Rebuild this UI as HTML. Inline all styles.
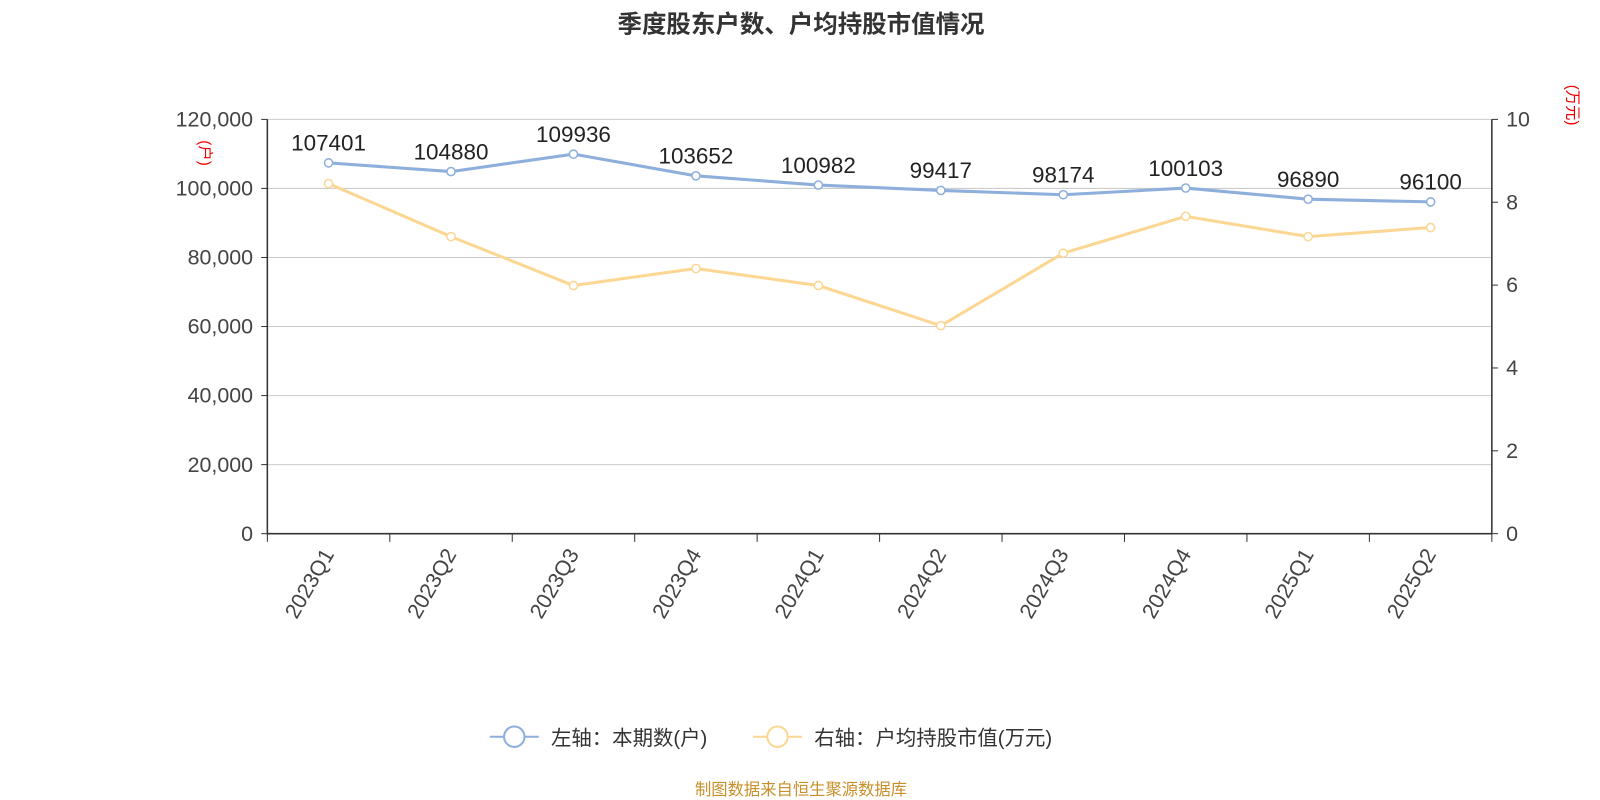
<!DOCTYPE html>
<html><head><meta charset="utf-8"><style>
html,body{margin:0;padding:0;background:#fff;width:1600px;height:800px;overflow:hidden}
text{font-family:"Liberation Sans","Noto Sans CJK SC",sans-serif}
</style></head><body>
<svg id="chart" width="1600" height="800" viewBox="0 0 1568 784" xmlns="http://www.w3.org/2000/svg">
<text x="785" y="32" text-anchor="middle" font-size="24" font-weight="bold" fill="#333">季度股东户数、户均持股市值情况</text>
<g id="grid"></g><g id="axes"></g><g id="series"></g>
<text transform="translate(196,150) rotate(90)" text-anchor="middle" font-size="15" fill="#e00">(户)</text>
<text transform="translate(1536,103) rotate(90)" text-anchor="middle" font-size="15" fill="#e00">(万元)</text>
<g>
<g>
<line x1="480" y1="722" x2="528" y2="722" stroke="#8eaedc" stroke-width="2"/>
<circle cx="504" cy="722" r="10" fill="#fff" stroke="#8eaedc" stroke-width="2"/>
<text x="540" y="730" font-size="20" fill="#333">左轴：本期数(户)</text></g>
<g>
<line x1="738" y1="722" x2="786" y2="722" stroke="#fcd793" stroke-width="2"/>
<circle cx="762" cy="722" r="10" fill="#fff" stroke="#fcd793" stroke-width="2"/>
<text x="798" y="730" font-size="20" fill="#333">右轴：户均持股市值(万元)</text></g>
</g>
<text x="785" y="779" text-anchor="middle" font-size="16" fill="#c8902a">制图数据来自恒生聚源数据库</text>
</svg>
<script>
const categories=["2023Q1","2023Q2","2023Q3","2023Q4","2024Q1","2024Q2","2024Q3","2024Q4","2025Q1","2025Q2"];
const holders=[107401,104880,109936,103652,100982,99417,98174,100103,96890,96100];
const avgValue=[8.45,7.17,5.99,6.40,5.99,5.02,6.77,7.66,7.17,7.39];
const leftTicks=[0,20000,40000,60000,80000,100000,120000];
const rightTicks=[0,2,4,6,8,10];
const NS="http://www.w3.org/2000/svg";
const X0=262,X1=1462,TOP=117,BOT=523;
const bw=(X1-X0)/categories.length;
const xc=i=>X0+bw*(i+0.5);
const yL=v=>BOT-(v/120000)*(BOT-TOP);
const yR=v=>BOT-(v/10)*(BOT-TOP);
function mk(parent,tag,attrs){const e=document.createElementNS(NS,tag);for(const k in attrs)e.setAttribute(k,attrs[k]);document.getElementById(parent).appendChild(e);return e;}
leftTicks.forEach(t=>{
 const y=yL(t);
 if(t>0){const g=mk('grid','line',{x1:X0,x2:X1,y1:y,y2:y,stroke:'#ccc','stroke-width':1});
 
 }
 const tk=mk('axes','line',{x1:X0-6,x2:X0,y1:y,y2:y,stroke:'#333'});
 
 
 const l=mk('axes','text',{x:X0-14,y:y+7,'text-anchor':'end','font-size':21,fill:'#444'});
 l.textContent=t.toLocaleString('en-US');
 
 
});
rightTicks.forEach(t=>{
 const y=yR(t);
 const tk=mk('axes','line',{x1:X1,x2:X1+6,y1:y,y2:y,stroke:'#333'});
 
 
 const l=mk('axes','text',{x:X1+14,y:y+7,'font-size':21,fill:'#444'});
 l.textContent=t;
 
 
});
[['left-axis-line',X0],['right-axis-line',X1]].forEach(([n,x])=>{
 const a=mk('axes','line',{x1:x,x2:x,y1:TOP,y2:BOT,stroke:'#333','stroke-width':1.5});
 
 
});
const xa=mk('axes','line',{x1:X0,x2:X1,y1:BOT,y2:BOT,stroke:'#333','stroke-width':1.5});


for(let i=0;i<=categories.length;i++){
 const x=X0+bw*i;
 const tk=mk('axes','line',{x1:x,x2:x,y1:BOT,y2:BOT+8,stroke:'#333'});
 
 
}
categories.forEach((c,i)=>{
 const x=xc(i);
 const l=mk('axes','text',{transform:`translate(${x+6},${BOT+20}) rotate(-60)`,'text-anchor':'end','font-size':21,fill:'#444'});
 l.textContent=c;
 
 
});
function series(vals,yf,color,name,labels){
 const pts=vals.map((v,i)=>xc(i)+','+yf(v)).join(' ');
 const pl=mk('series','polyline',{points:pts,fill:'none',stroke:color,'stroke-width':3,'stroke-linejoin':'round'});
 
 
 vals.forEach((v,i)=>{
  const c=mk('series','circle',{cx:xc(i),cy:yf(v),r:4,fill:'#fff',stroke:color,'stroke-width':1.5});
  
  
  if(labels){
   const t=mk('series','text',{x:xc(i),y:yf(v)-12,'text-anchor':'middle','font-size':22,fill:'#222'});
   t.textContent=v;
   
   
  }
 });
}
series(avgValue,yR,'#fcd793','avg-value',false);
series(holders,yL,'#8eaedc','holders',true);
</script>
</body></html>
